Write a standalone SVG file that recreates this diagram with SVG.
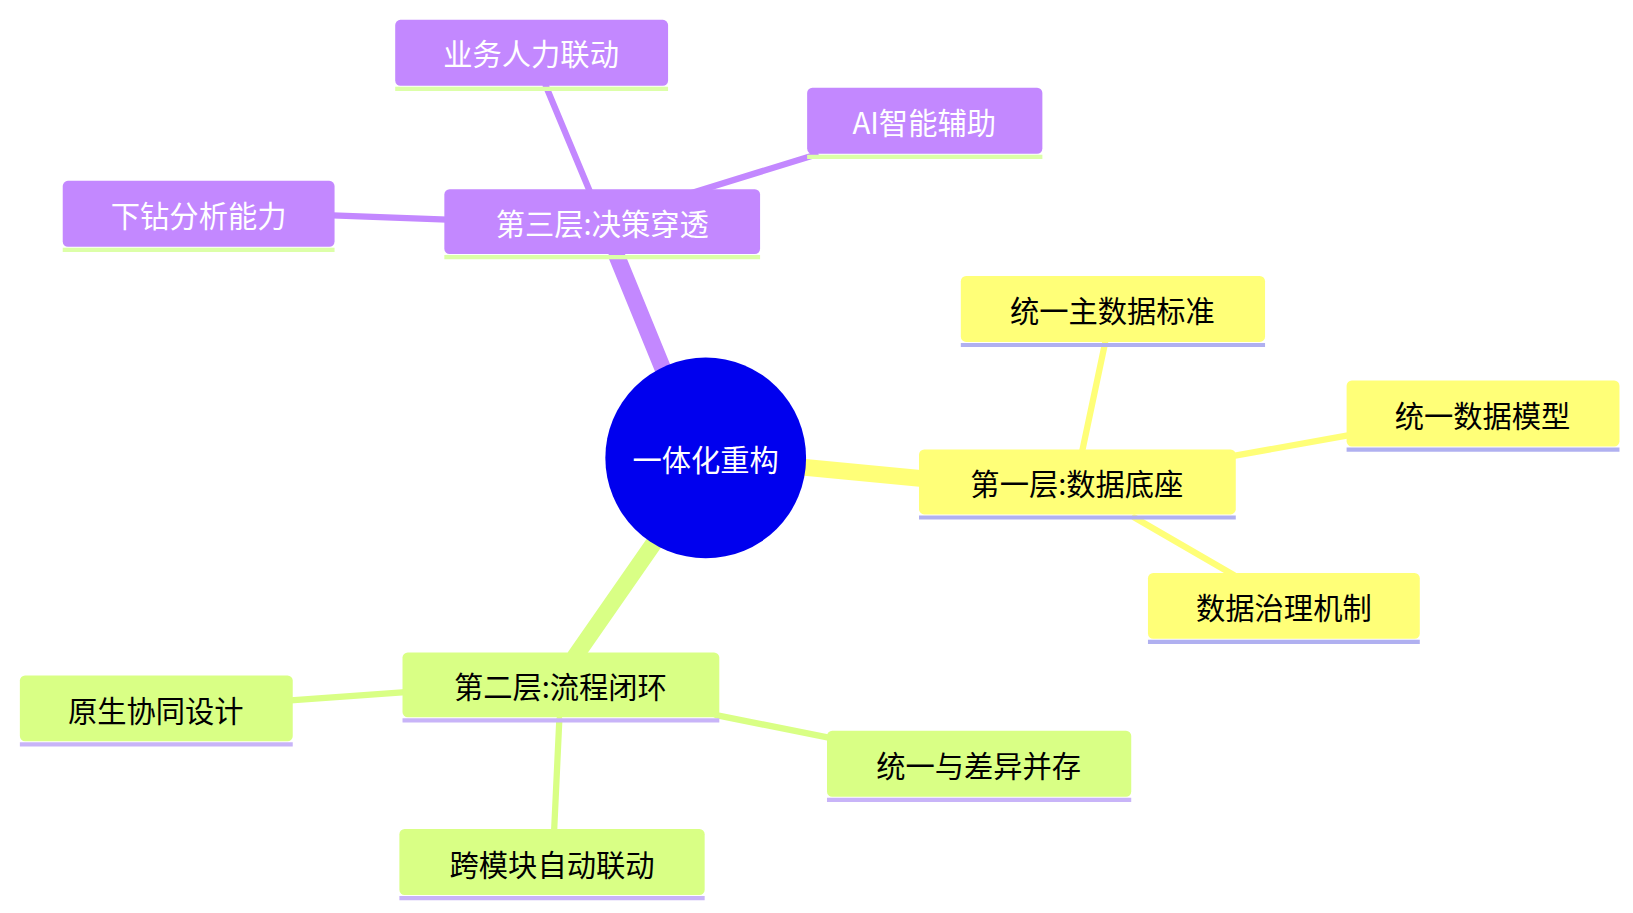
<svg xmlns="http://www.w3.org/2000/svg" width="1633" height="913" viewBox="0 0 1633 913">
<style>
text{font-family:"Noto Sans CJK SC","Noto Sans",sans-serif;font-size:28px;text-anchor:middle;dominant-baseline:central}
.p rect{fill:#c388ff}.p text{fill:#fff}.p line{stroke:#dcffa8;stroke-width:4}
.y rect{fill:#ffff78}.y text{fill:#000}.y line{stroke:#b0b0f0;stroke-width:4}
.g rect{fill:#d9ff85}.g text{fill:#000}.g line{stroke:#c8b4f8;stroke-width:4}
.e{fill:none;stroke-linecap:round}
</style>
<rect width="1633" height="913" fill="#fff"/>
<g transform="scale(1.0455)">
<g id="connectors">
<line class="e" x1="635" y1="355" x2="590" y2="245" stroke="#c388ff" stroke-width="16"/>
<line class="e" x1="770" y1="447" x2="885" y2="458" stroke="#ffff78" stroke-width="16"/>
<line class="e" x1="625" y1="520" x2="550" y2="628" stroke="#d9ff85" stroke-width="16"/>
<line class="e" x1="565" y1="185" x2="522" y2="82" stroke="#c388ff" stroke-width="6"/>
<line class="e" x1="660" y1="185" x2="780" y2="148" stroke="#c388ff" stroke-width="6"/>
<line class="e" x1="428" y1="210" x2="318" y2="206" stroke="#c388ff" stroke-width="6"/>
<line class="e" x1="1035" y1="432" x2="1057" y2="328" stroke="#ffff78" stroke-width="6"/>
<line class="e" x1="1180" y1="436" x2="1292" y2="416" stroke="#ffff78" stroke-width="6"/>
<line class="e" x1="1085" y1="495" x2="1180" y2="550" stroke="#ffff78" stroke-width="6"/>
<line class="e" x1="388" y1="662" x2="278" y2="670" stroke="#d9ff85" stroke-width="6"/>
<line class="e" x1="685" y1="684" x2="795" y2="706" stroke="#d9ff85" stroke-width="6"/>
<line class="e" x1="535" y1="688" x2="530" y2="795" stroke="#d9ff85" stroke-width="6"/>
</g>
<g id="root"><circle cx="675" cy="438" r="96" fill="#0000ee"/><text x="675" y="438" fill="#fff">一体化重构</text></g>
<g id="n3" class="p"><rect x="425" y="181" width="302" height="62" rx="5"/><line x1="425" y1="246" x2="727" y2="246"/><text x="576" y="212">第三层:决策穿透</text></g>
<g id="n3a" class="p"><rect x="378" y="19" width="261" height="63" rx="5"/><line x1="378" y1="85" x2="639" y2="85"/><text x="508" y="50">业务人力联动</text></g>
<g id="n3b" class="p"><rect x="772" y="84" width="225" height="63" rx="5"/><line x1="772" y1="150" x2="997" y2="150"/><text x="884" y="116">AI智能辅助</text></g>
<g id="n3c" class="p"><rect x="60" y="173" width="260" height="63" rx="5"/><line x1="60" y1="239" x2="320" y2="239"/><text x="190" y="205">下钻分析能力</text></g>
<g id="n1" class="y"><rect x="879" y="430" width="303" height="62" rx="5"/><line x1="879" y1="495" x2="1182" y2="495"/><text x="1030" y="461">第一层:数据底座</text></g>
<g id="n1a" class="y"><rect x="919" y="264" width="291" height="63" rx="5"/><line x1="919" y1="330" x2="1210" y2="330"/><text x="1064" y="296">统一主数据标准</text></g>
<g id="n1b" class="y"><rect x="1288" y="364" width="261" height="63" rx="5"/><line x1="1288" y1="430" x2="1549" y2="430"/><text x="1418" y="396">统一数据模型</text></g>
<g id="n1c" class="y"><rect x="1098" y="548" width="260" height="63" rx="5"/><line x1="1098" y1="614" x2="1358" y2="614"/><text x="1228" y="580">数据治理机制</text></g>
<g id="n2" class="g"><rect x="385" y="624" width="303" height="62" rx="5"/><line x1="385" y1="689" x2="688" y2="689"/><text x="536" y="655">第二层:流程闭环</text></g>
<g id="n2a" class="g"><rect x="19" y="646" width="261" height="63" rx="5"/><line x1="19" y1="712" x2="280" y2="712"/><text x="149" y="678">原生协同设计</text></g>
<g id="n2b" class="g"><rect x="791" y="699" width="291" height="63" rx="5"/><line x1="791" y1="765" x2="1082" y2="765"/><text x="936" y="731">统一与差异并存</text></g>
<g id="n2c" class="g"><rect x="382" y="793" width="292" height="63" rx="5"/><line x1="382" y1="859" x2="674" y2="859"/><text x="528" y="825">跨模块自动联动</text></g>
</g>
</svg>
